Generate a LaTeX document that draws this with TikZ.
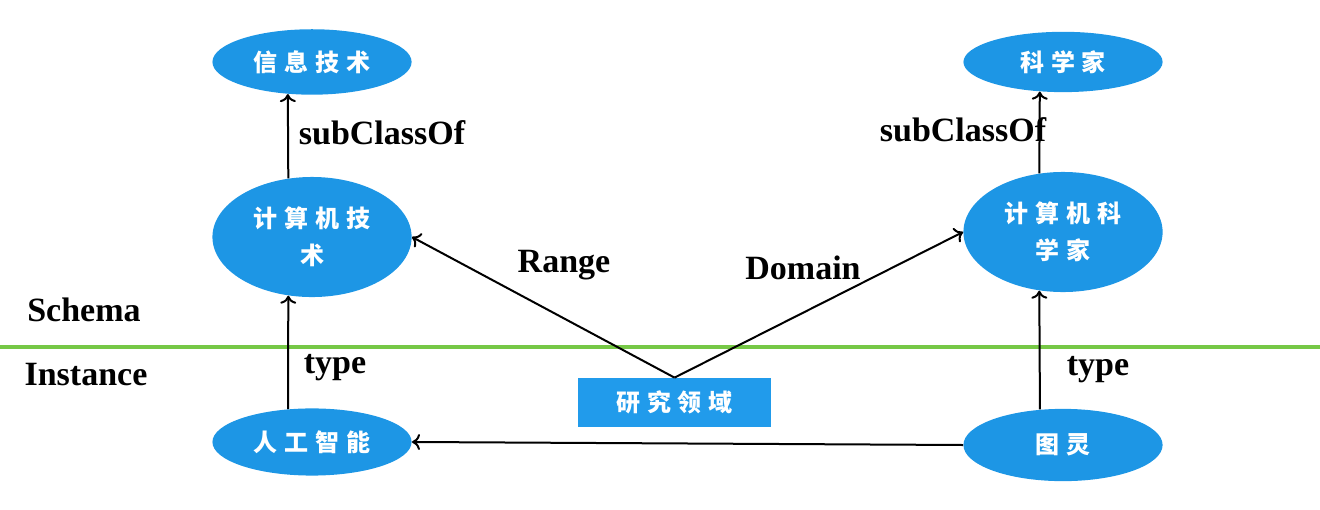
\documentclass[tikz,border=0pt]{standalone}
\usepackage{fontspec}
\setmainfont{Liberation Serif}
\newfontfamily\cjk[LetterSpace=28]{Noto Sans CJK SC}
\usepackage{tikz}
\usetikzlibrary{shapes,arrows,arrows.meta,positioning,calc}
\definecolor{nodeblue}{RGB}{29, 150, 229}
\definecolor{boxblue}{RGB}{33, 155, 235}
\definecolor{linegreen}{RGB}{118, 200, 70}

\begin{document}
\begin{tikzpicture}[
    concept/.style={ellipse, fill=nodeblue, inner sep=0pt, minimum width=3.5cm, minimum height=1.15cm, align=center, text=white, font=\cjk\bfseries\fontsize{12}{18.5}\selectfont},
    bigconcept/.style={concept, minimum height=2.11cm},
    field/.style={rectangle, fill=boxblue, inner sep=0pt, minimum width=3.39cm, minimum height=0.86cm, text=white, font=\cjk\bfseries\fontsize{12}{13}\selectfont},
    lbl/.style={font=\fontsize{17}{20}\selectfont\bfseries},
    arrow/.style={-{To[length=4pt,width=8pt]}, black, line width=1pt}
]
\useasboundingbox (0,0) rectangle (23.196,8.962);

\node[concept] (info) at (5.483,7.873) {信息技术};
\node[bigconcept] (comptech) at (5.483,4.797) {计算机技\\术};
\node[concept, minimum height=1.18cm] (ai) at (5.483,1.195) {人工智能};

\node[concept, minimum height=1.06cm] (sci) at (18.680,7.873) {科学家};
\node[bigconcept] (compsci) at (18.680,4.885) {计算机科\\学家};
\node[concept, minimum height=1.27cm] (turing) at (18.680,1.142) {图灵};

\node[field] (area) at (11.853,1.889) {研究领域};

% Schema / Instance split
\draw[linegreen, line width=2pt] (0,2.864) -- (23.196,2.864);
\node[lbl] (schema) at (1.476,3.515) {Schema};
\node[lbl] (instance) at (1.511,2.372) {Instance};

\draw[arrow] (comptech.112) -- (info.233);
\draw[arrow] (ai.126) -- (comptech.248);
\draw[arrow] (compsci.112) -- (sci.232);
\draw[arrow] (turing.123) -- (compsci.248);
\draw[arrow] (area.north) -- (comptech.east);
\draw[arrow] (area.north) -- (compsci.west);
\draw[arrow] (turing.west) -- (ai.east);

\node[lbl] (sub1) at (6.713,6.625) {subClassOf};
\node[lbl] (sub2) at (16.923,6.678) {subClassOf};
\node[lbl] (range) at (9.911,4.305) {Range};
\node[lbl] (domain) at (14.111,4.253) {Domain};
\node[lbl] (type1) at (5.887,2.495) {type};
\node[lbl] (type2) at (19.295,2.460) {type};

\end{tikzpicture}
\end{document}
